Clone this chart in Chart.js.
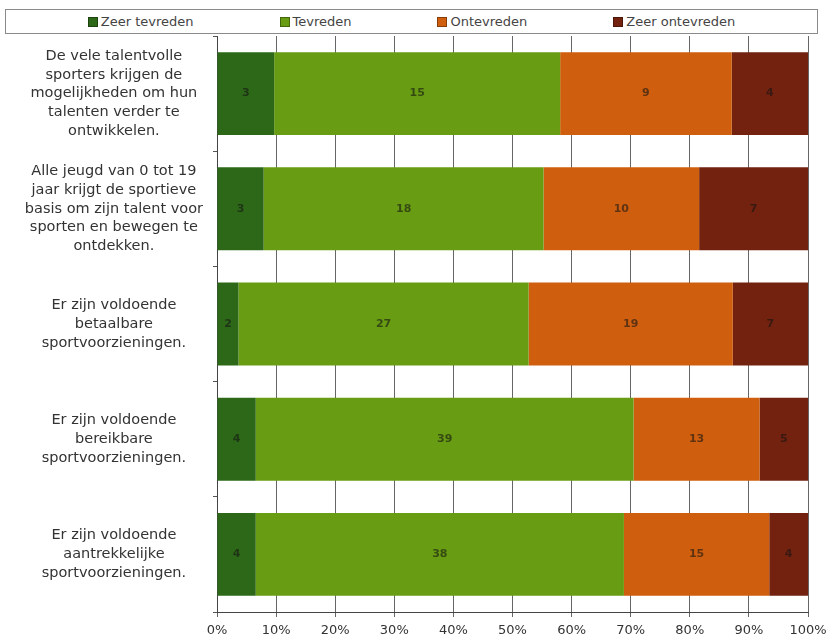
<!DOCTYPE html>
<html>
<head>
<meta charset="utf-8">
<script src="https://cdn.jsdelivr.net/npm/chart.js@4.4.1/dist/chart.umd.min.js"></script>
<style>
  html, body { margin: 0; padding: 0; background: #fff; }
  #wrap { position: relative; width: 828px; height: 640px; }
  #legend {
    position: absolute; left: 5px; top: 9px; width: 811px; height: 23px;
    border: 1px solid #8a8a8a; box-sizing: content-box;
    display: flex; justify-content: center; align-items: center; gap: 86px;
    font: 13px "DejaVu Sans", sans-serif; color: #444;
  }
  #legend span.box { display: inline-block; width: 8px; height: 8px; margin-right: 3px; border: 1px solid rgba(0,0,0,0.35); vertical-align: -1px; }
  canvas { position: absolute; left: 0; top: 0; }
</style>
</head>
<body>
<div id="wrap">
  <div id="legend"></div>
  <canvas id="chart" width="828" height="640"></canvas>
</div>
<script>
var categories = [
  ["De vele talentvolle", "sporters krijgen de", "mogelijkheden om hun", "talenten verder te", "ontwikkelen."],
  ["Alle jeugd van 0 tot 19", "jaar krijgt de sportieve", "basis om zijn talent voor", "sporten en bewegen te", "ontdekken."],
  ["Er zijn voldoende", "betaalbare", "sportvoorzieningen."],
  ["Er zijn voldoende", "bereikbare", "sportvoorzieningen."],
  ["Er zijn voldoende", "aantrekkelijke", "sportvoorzieningen."]
];
var seriesNames = ["Zeer tevreden", "Tevreden", "Ontevreden", "Zeer ontevreden"];
var zeerTevreden = [3, 3, 2, 4, 4];
var tevreden = [15, 18, 27, 39, 38];
var ontevreden = [9, 10, 19, 13, 15];
var zeerOntevreden = [4, 7, 7, 5, 4];
var tickLabels = ["0%", "10%", "20%", "30%", "40%", "50%", "60%", "70%", "80%", "90%", "100%"];

var colors = ['#2d6818', '#689c12', '#cf5f0e', '#72220f'];
var counts = [zeerTevreden, tevreden, ontevreden, zeerOntevreden];

// totals per row, used to turn counts into shares of 100%
var totals = categories.map(function(c, i) {
  return zeerTevreden[i] + tevreden[i] + ontevreden[i] + zeerOntevreden[i];
});

var datasets = counts.map(function(arr, k) {
  return {
    label: seriesNames[k],
    data: arr.map(function(v, i) { return v / totals[i] * 100; }),
    counts: arr,
    backgroundColor: colors[k],
    borderWidth: 0,
    categoryPercentage: 0.8,
    barPercentage: 0.9
  };
});

// html legend from the series
var legendEl = document.getElementById('legend');
seriesNames.forEach(function(name, k) {
  var item = document.createElement('div');
  item.innerHTML = '<span class="box" style="background:' + colors[k] + '"></span>' + name;
  legendEl.appendChild(item);
});

// count labels in the middle of each segment
var barValues = {
  id: 'barValues',
  afterDatasetsDraw: function(chart) {
    var ctx = chart.ctx;
    ctx.save();
    ctx.font = 'bold 11px "DejaVu Sans", sans-serif';
    ctx.fillStyle = 'rgba(20,20,20,0.6)';
    ctx.textAlign = 'center';
    ctx.textBaseline = 'middle';
    chart.data.datasets.forEach(function(ds, k) {
      chart.getDatasetMeta(k).data.forEach(function(bar, i) {
        var p = bar.getProps(['x', 'y', 'base'], true);
        ctx.fillText(ds.counts[i], (p.x + p.base) / 2, p.y);
      });
    });
    ctx.restore();
  }
};

new Chart(document.getElementById('chart'), {
  type: 'bar',
  data: { labels: categories, datasets: datasets },
  plugins: [barValues],
  options: {
    indexAxis: 'y',
    responsive: false,
    animation: false,
    layout: { padding: { top: 36, right: 20, bottom: 0, left: 0 } },
    plugins: { legend: { display: false }, tooltip: { enabled: false } },
    scales: {
      x: {
        stacked: true,
        min: 0,
        max: 100,
        afterFit: function(axis) {
          axis.height = 28;
          axis.paddingLeft = 0;
          axis.paddingRight = 0;
        },
        ticks: {
          stepSize: 10,
          padding: 6,
          color: '#333',
          font: { family: '"DejaVu Sans", sans-serif', size: 13 },
          callback: function(v, i) { return tickLabels[i]; }
        },
        grid: { color: '#666', lineWidth: 1, tickLength: 5 },
        border: { color: '#444', width: 1 }
      },
      y: {
        stacked: true,
        afterFit: function(axis) {
          axis.width = 217;
          axis.paddingTop = 0;
          axis.paddingBottom = 0;
        },
        ticks: {
          crossAlign: 'center',
          padding: 10,
          color: '#333',
          font: { family: '"DejaVu Sans", sans-serif', size: 14.5, lineHeight: 1.3 }
        },
        grid: { drawOnChartArea: false, color: '#555', tickLength: 4 },
        border: { color: '#444', width: 1 }
      }
    }
  }
});
</script>
</body>
</html>
